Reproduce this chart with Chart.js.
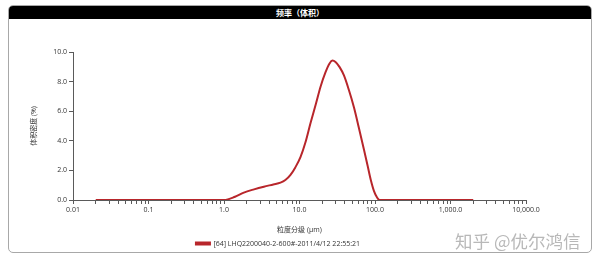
<!DOCTYPE html>
<html>
<head>
<meta charset="utf-8">
<script src="https://cdn.jsdelivr.net/npm/chart.js@4.4.1/dist/chart.umd.min.js"></script>
<style>
  html, body { margin: 0; padding: 0; background: #fff; }
  #wrap { position: relative; width: 600px; height: 266px; overflow: hidden; }
  #card { position: absolute; left: 8px; top: 5px; width: 582px; height: 246px; border: 1px solid #a8a8a8; border-radius: 5px; overflow: hidden; }
  #head { height: 13px; background: #000; color: #fff; font: bold 8px "Noto Sans CJK SC", sans-serif; text-align: center; line-height: 13px; }
  #chart { position: absolute; left: 0; top: 0; }
  #mark { position: absolute; left: 455px; top: 232px; font: 17.5px/1 "Noto Sans CJK SC", sans-serif; color: #b8b8b8; white-space: nowrap; }
</style>
</head>
<body>
<div id="wrap">
  <div id="card"><div id="head">频率（体积）</div></div>
  <canvas id="chart" width="600" height="266"></canvas>
  <div id="mark">知乎 @优尔鸿信</div>
</div>
<script>
// particle size (um) and volume density (%)
const sizes = [0.02, 1.0, 1.4, 1.83, 2.5, 3.37, 4.5, 5.6, 6.5, 7.6, 8.8, 10.3, 12, 14, 16.5, 19, 22, 25, 27.3, 30, 34, 38.8, 45, 52.7, 61, 71.6, 80, 88, 97, 107, 115, 2000];
const density = [0, 0, 0.22, 0.5, 0.72, 0.9, 1.05, 1.17, 1.35, 1.7, 2.2, 2.9, 3.9, 5.2, 6.5, 7.65, 8.6, 9.22, 9.42, 9.33, 8.98, 8.42, 7.45, 6.25, 4.9, 3.38, 2.3, 1.35, 0.6, 0.15, 0, 0];

const decades = [0.01, 0.1, 1, 10, 100, 1000, 10000];
const decadeLabels = ['0.01', '0.1', '1.0', '10.0', '100.0', '1,000.0', '10,000.0'];
const yTicks = [0, 2, 4, 6, 8, 10];
const yTickLabels = ['0.0', '2.0', '4.0', '6.0', '8.0', '10.0'];

const seriesName = '[64] LHQ2200040-2-600#-2011/4/12 22:55:21';
const lineColor = '#b8262b';
const axisColor = '#5a5a5a';
const font = '"Open Sans", "Noto Sans CJK SC", sans-serif';

const points = sizes.map((s, i) => ({ x: s, y: density[i] }));

const ctx = document.getElementById('chart').getContext('2d');
new Chart(ctx, {
  type: 'line',
  data: {
    datasets: [{
      label: seriesName,
      data: points,
      borderColor: lineColor,
      backgroundColor: lineColor,
      borderWidth: 2,
      pointRadius: 0,
      cubicInterpolationMode: 'monotone',
      fill: false
    }]
  },
  options: {
    responsive: false,
    animation: false,
    layout: { padding: { left: 30, right: 74, top: 52, bottom: 9 } },
    plugins: {
      tooltip: { enabled: false },
      legend: {
        position: 'bottom',
        labels: {
          font: { family: font, size: 7 },
          color: '#333',
          boxWidth: 14,
          boxHeight: 2,
          padding: 6
        }
      }
    },
    scales: {
      x: {
        type: 'logarithmic',
        min: 0.01,
        max: 10000,
        afterBuildTicks: (scale) => {
          const ticks = [];
          decades.forEach((d, i) => {
            ticks.push({ value: d });
            if (i < decades.length - 1) {
              for (let m = 2; m <= 9; m++) ticks.push({ value: +(d * m).toPrecision(3) });
            }
          });
          scale.ticks = ticks;
        },
        afterFit: (scale) => { scale.height = 34; },
        ticks: {
          autoSkip: false,
          maxRotation: 0,
          padding: 2,
          color: '#333',
          font: { family: font, size: 7 },
          callback: (value) => {
            const i = decades.indexOf(value);
            return i >= 0 ? decadeLabels[i] : '';
          }
        },
        grid: { drawOnChartArea: false, drawTicks: true, tickLength: 4, color: axisColor },
        border: { color: axisColor, width: 1 },
        title: {
          display: true,
          text: '粒度分级 (μm)',
          color: '#333',
          font: { family: font, size: 7 },
          padding: { top: 0, bottom: 0 }
        }
      },
      y: {
        min: 0,
        max: 10,
        afterBuildTicks: (scale) => { scale.ticks = yTicks.map(v => ({ value: v })); },
        afterFit: (scale) => { scale.width = 43; },
        ticks: {
          padding: 2,
          color: '#333',
          font: { family: font, size: 7 },
          callback: (value) => yTickLabels[yTicks.indexOf(value)]
        },
        grid: { drawOnChartArea: false, drawTicks: true, tickLength: 4, color: axisColor },
        border: { color: axisColor, width: 1 },
        title: {
          display: true,
          text: '体积密度 (%)',
          color: '#333',
          font: { family: font, size: 7 },
          padding: 0
        }
      }
    }
  }
});
</script>
</body>
</html>
